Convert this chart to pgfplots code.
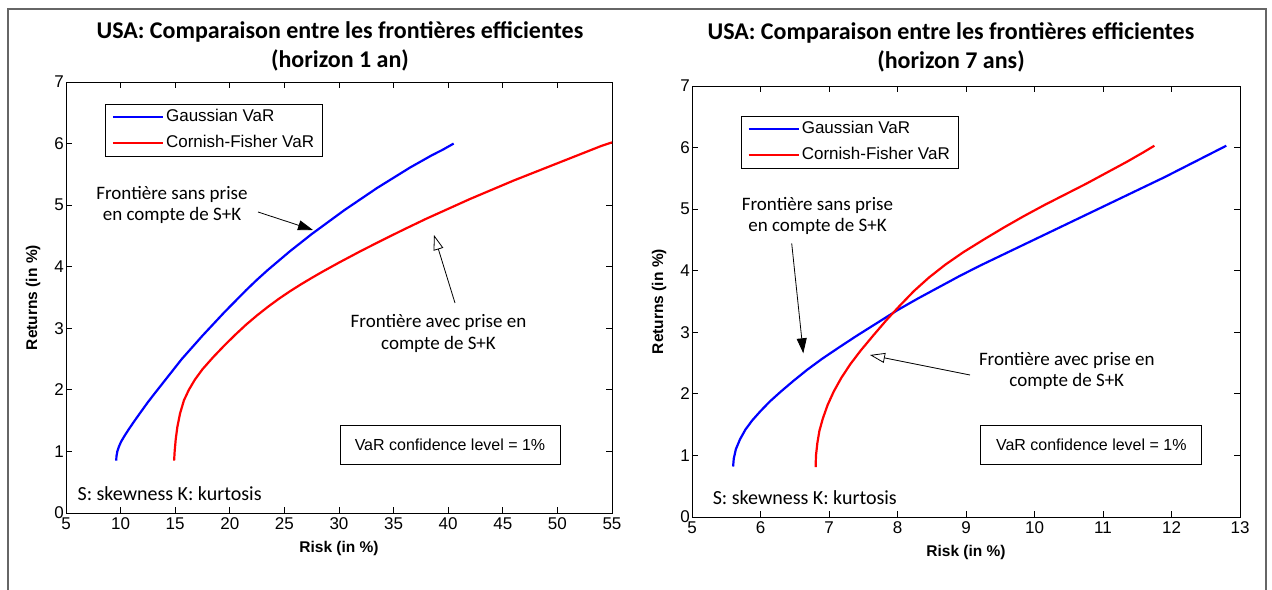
\documentclass[border=0pt]{standalone}
\usepackage{fontspec}
\setmainfont{Liberation Sans}
\newfontfamily\carlito{Carlito}
\usepackage{pgfplots}
\pgfplotsset{compat=1.18}
\usetikzlibrary{arrows.meta}

\pgfplotsset{
  myaxis/.style={
    scale only axis,
    ymin=0, ymax=7,
    ytick={0,1,...,7},
    axis line style={line width=0.9bp, black},
    every tick/.style={black, line width=0.9bp},
    major tick length=6bp,
    tick align=inside,
    ticklabel style={font=\fontsize{17bp}{20bp}\selectfont},
    yticklabel style={inner xsep=2bp},
    xticklabel style={yshift=-1.5bp},
    /pgf/number format/assume math mode=true,
    label style={font=\bfseries\fontsize{15.5bp}{18bp}\selectfont},
    clip=false,
    legend cell align=left,
    legend style={draw=black, line width=0.8bp,
      font=\fontsize{17bp}{20bp}\selectfont,
      inner xsep=6.5bp, inner ysep=3bp, row sep=6bp,
      nodes={text height=12.5bp, text depth=3.5bp}},
    legend image code/.code={\draw[#1] (0bp,0bp) -- (50bp,0bp);},
  }
}

\begin{document}
\begin{tikzpicture}
\useasboundingbox (0bp,0bp) rectangle (1272bp,590bp);
\begin{scope}[x=1bp,y=1bp]
\draw[line width=1.3bp, black!60] (8,0) -- (8,581) -- (1266,581) -- (1266,0);
\end{scope}

% ---------- left panel ----------
\begin{axis}[myaxis,
  at={(66bp,77bp)}, anchor=south west,
  width=546bp, height=431bp,
  xmin=5, xmax=55,
  xtick={5,10,...,55},
  xlabel={Risk (in \%)},
  ylabel={Returns (in \%)},
  xlabel style={at={(axis description cs:0.5,-0.0835)}, anchor=center},
  ylabel style={at={(axis description cs:-0.0604,0.5)}, anchor=center},
  legend style={at={(axis description cs:0.0714,0.949)}, anchor=north west},
]
\addplot[blue, line width=2.2bp] coordinates {
(9.60,0.85) (9.62,0.92) (9.70,1.00) (9.85,1.08) (10.05,1.16) (10.35,1.25)
(10.75,1.36) (11.25,1.49) (11.85,1.64) (12.50,1.80) (13.20,1.96) (14.00,2.14)
(14.80,2.32) (15.60,2.50) (16.50,2.68) (17.50,2.88) (18.50,3.07) (19.50,3.26)
(20.50,3.44) (21.50,3.62) (22.50,3.79) (23.50,3.95) (24.50,4.10) (25.50,4.25)
(26.50,4.39) (27.50,4.53) (28.50,4.66) (29.50,4.79) (30.50,4.92) (31.50,5.04)
(32.50,5.16) (33.50,5.28) (34.50,5.39) (35.50,5.50) (36.50,5.61) (37.50,5.71)
(38.50,5.81) (39.50,5.90) (40.50,6.00)
};
\addlegendentry{Gaussian VaR}
\addplot[red, line width=2.2bp] coordinates {
(14.90,0.85) (14.95,1.00) (15.05,1.20) (15.20,1.40) (15.45,1.62) (15.80,1.83)
(16.25,2.00) (16.80,2.165) (17.50,2.335) (18.50,2.535) (19.50,2.72) (20.50,2.895)
(21.50,3.06) (22.50,3.21) (23.50,3.35) (24.50,3.48) (25.50,3.60) (26.50,3.712)
(27.50,3.818) (28.50,3.92) (30.00,4.067) (32.00,4.255) (34.00,4.435) (36.00,4.61)
(38.00,4.78) (40.00,4.94) (42.00,5.10) (44.00,5.25) (46.00,5.40) (48.00,5.54)
(50.00,5.68) (52.00,5.82) (54.00,5.96) (55.00,6.02)
};
\addlegendentry{Cornish-Fisher VaR}
\end{axis}

% ---------- right panel ----------
\begin{axis}[myaxis,
  at={(692bp,73bp)}, anchor=south west,
  width=548bp, height=431bp,
  xmin=5, xmax=13,
  xtick={5,6,...,13},
  xlabel={Risk (in \%)},
  ylabel={Returns (in \%)},
  xlabel style={at={(axis description cs:0.5,-0.0835)}, anchor=center},
  ylabel style={at={(axis description cs:-0.0602,0.5)}, anchor=center},
  legend style={at={(axis description cs:0.0889,0.931)}, anchor=north west},
]
\addplot[blue, line width=2.2bp] coordinates {
(5.60,0.82) (5.61,0.95) (5.64,1.10) (5.70,1.26) (5.78,1.42) (5.88,1.57)
(6.00,1.72) (6.14,1.88) (6.30,2.04) (6.48,2.21) (6.68,2.39) (6.90,2.57)
(7.14,2.75) (7.40,2.94) (7.70,3.15) (8.00,3.36) (8.30,3.55) (8.60,3.73)
(8.90,3.91) (9.20,4.08) (9.50,4.24) (9.80,4.40) (10.10,4.56) (10.40,4.72)
(10.70,4.88) (11.00,5.04) (11.30,5.20) (11.60,5.36) (11.90,5.52) (12.20,5.69)
(12.50,5.86) (12.80,6.03)
};
\addlegendentry{Gaussian VaR}
\addplot[red, line width=2.2bp] coordinates {
(6.805,0.81) (6.81,1.00) (6.83,1.20) (6.86,1.40) (6.91,1.60) (6.98,1.82)
(7.07,2.04) (7.18,2.26) (7.31,2.48) (7.46,2.70) (7.64,2.94) (7.84,3.20)
(8.04,3.44) (8.24,3.67) (8.46,3.89) (8.70,4.10) (8.96,4.30) (9.25,4.50)
(9.55,4.70) (9.85,4.89) (10.15,5.07) (10.45,5.24) (10.75,5.41) (11.05,5.59)
(11.35,5.77) (11.60,5.93) (11.75,6.03)
};
\addlegendentry{Cornish-Fisher VaR}
\end{axis}

\begin{scope}[x=1bp,y=1bp]
% ---------- titles ----------
\node[align=center, font=\carlito\bfseries\fontsize{24bp}{29bp}\selectfont] at (340,543.5)
  {USA: Comparaison entre les frontières efficientes\\(horizon 1 an)};
\node[align=center, font=\carlito\bfseries\fontsize{24bp}{29bp}\selectfont] at (951,543)
  {USA: Comparaison entre les frontières efficientes\\(horizon 7 ans)};

% ---------- annotations, left ----------
\tikzset{annot/.style={align=center, inner sep=0pt, font=\carlito\fontsize{19bp}{21.5bp}\selectfont}}
\node[annot] at (172,385) {Frontière sans prise\\en compte de S+K};
\draw[line width=0.8bp, -{Triangle[length=15bp,width=10bp]}] (258,378) -- (313,360);
\node[annot] at (438.5,256.5) {Frontière avec prise en\\compte de S+K};
\draw[line width=0.8bp, -{Triangle[open,fill=white,length=15bp,width=10bp]}] (455,287) -- (434,355);
\node[draw, line width=0.8bp, minimum width=220bp, minimum height=39bp, inner sep=0pt,
  font=\fontsize{16bp}{19bp}\selectfont] at (450,145.5) {VaR confidence level = 1\%};
\node[anchor=west, inner sep=0pt, font=\carlito\fontsize{20bp}{24bp}\selectfont] at (77.4,96)
  {S: skewness K: kurtosis};

% ---------- annotations, right ----------
\node[annot] at (817.5,374) {Frontière sans prise\\en compte de S+K};
\draw[line width=0.8bp, -{Triangle[length=15bp,width=10bp]}] (791.7,346.7) -- (803.3,236.7);
\node[annot] at (1066.8,219) {Frontière avec prise en\\compte de S+K};
\draw[line width=0.8bp, -{Triangle[open,fill=white,length=15bp,width=10bp]}] (970,215) -- (870,235);
\node[draw, line width=0.8bp, minimum width=221bp, minimum height=39bp, inner sep=0pt,
  font=\fontsize{16bp}{19bp}\selectfont] at (1091.3,145.5) {VaR confidence level = 1\%};
\node[anchor=west, inner sep=0pt, font=\carlito\fontsize{20bp}{24bp}\selectfont] at (712.6,92)
  {S: skewness K: kurtosis};
\end{scope}
\end{tikzpicture}
\end{document}
